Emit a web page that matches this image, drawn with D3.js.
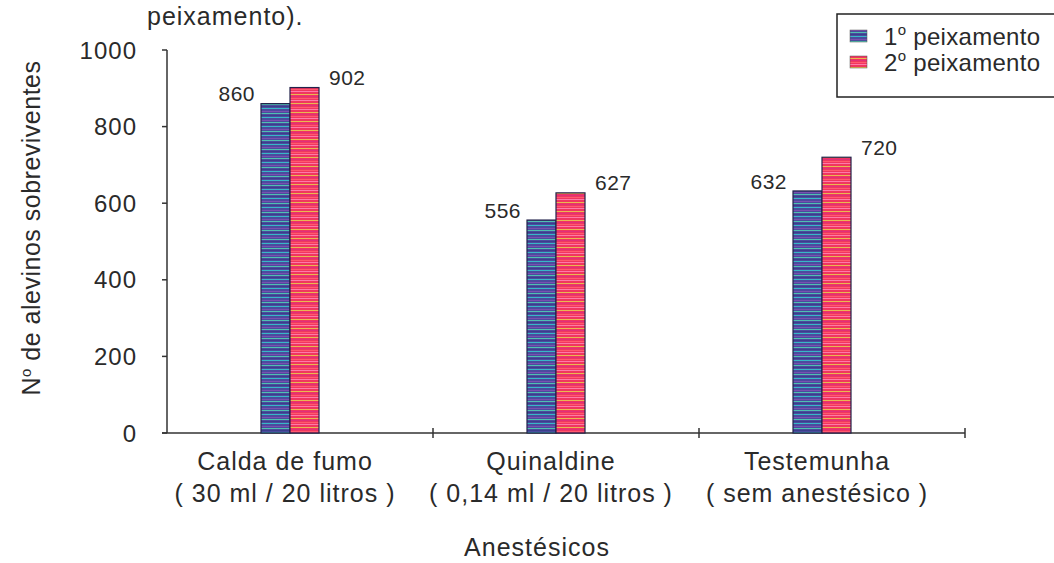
<!DOCTYPE html>
<html lang="pt">
<head>
<meta charset="UTF-8">
<title>Alevinos sobreviventes</title>
<script src="https://cdn.jsdelivr.net/npm/d3@7"></script>
<style>
  body { margin: 0; background: #fff; }
  svg text { font-family: "Liberation Sans", Arial, sans-serif; fill: #2a2a2a; letter-spacing: 1px; }
</style>
</head>
<body>
<svg id="chart" width="1054" height="563"></svg>
<script>
// data
var categories = ["Calda de fumo", "Quinaldine", "Testemunha"];
var subLabels = ["( 30 ml / 20 litros )", "( 0,14 ml / 20 litros )", "( sem anestésico )"];
var series = ["1", "2"];
var peix1 = [860, 556, 632];
var peix2 = [902, 627, 720];
var yTicks = [0, 200, 400, 600, 800, 1000];

var svg = d3.select("#chart");
var width = 1054, height = 563;

var x = d3.scaleBand().domain(categories).range([167, 965]).padding(0);
var xs = d3.scaleBand().domain(series).range([-29, 29]).padding(0);
var y = d3.scaleLinear().domain([0, 1000]).range([433, 50]);

// stripe patterns (scanned look)
var defs = svg.append("defs");
function stripes(id, base, lines) {
    var p = defs.append("pattern").attr("id", id)
        .attr("patternUnits", "userSpaceOnUse")
        .attr("width", 8).attr("height", 9);
    p.append("rect").attr("width", 8).attr("height", 9).attr("fill", base);
    lines.forEach(function(l) {
        p.append("rect").attr("x", 0).attr("y", l[0]).attr("width", 8).attr("height", l[1]).attr("fill", l[2]);
    });
}
stripes("pat1", "#4b4c9e", [[0, 1, "#38b7c6"], [3, 1, "#7a4fb0"], [5, 1, "#4fc0b0"], [7, 1, "#3b3e8c"]]);
stripes("pat2", "#f03660", [[1, 1, "#ff7aa8"], [4, 1, "#e8b850"], [6, 1, "#e0307a"], [8, 1, "#ff5a6e"]]);
var fills = {"1": "url(#pat1)", "2": "url(#pat2)"};

// title fragment (cut off at top)
svg.append("text").attr("x", 147).attr("y", 25)
    .style("font-size", "25px").text("peixamento).");

// axes
var axisColor = "#333";
svg.append("line").attr("x1", 167).attr("x2", 167).attr("y1", y(1000)).attr("y2", y(0))
    .attr("stroke", axisColor).attr("stroke-width", 1.5);
svg.append("line").attr("x1", 162).attr("x2", 965).attr("y1", y(0)).attr("y2", y(0))
    .attr("stroke", axisColor).attr("stroke-width", 1.5);

svg.selectAll(".ytick").data(yTicks).enter().append("line")
    .attr("x1", 162).attr("x2", 167)
    .attr("y1", function(d) { return y(d); }).attr("y2", function(d) { return y(d); })
    .attr("stroke", axisColor).attr("stroke-width", 1.5);

svg.selectAll(".ylab").data(yTicks).enter().append("text")
    .attr("x", 137).attr("y", function(d) { return y(d); })
    .attr("dy", "0.36em").attr("text-anchor", "end")
    .style("font-size", "24px").text(function(d) { return d; });

var xTicks = categories.map(function(c) { return x(c) + x.bandwidth(); });
svg.selectAll(".xtick").data(xTicks).enter().append("line")
    .attr("x1", function(d) { return d; }).attr("x2", function(d) { return d; })
    .attr("y1", y(0) - 5).attr("y2", y(0) + 5)
    .attr("stroke", axisColor).attr("stroke-width", 1.5);

// bars
var barShift = -10, labelShift = -15;
var rows = [];
categories.forEach(function(c, i) {
    rows.push({cat: c, s: "1", v: peix1[i]});
    rows.push({cat: c, s: "2", v: peix2[i]});
});
function bx(d) { return x(d.cat) + x.bandwidth() / 2 + barShift + xs(d.s); }

svg.selectAll(".bar").data(rows).enter().append("rect")
    .attr("x", bx).attr("y", function(d) { return y(d.v); })
    .attr("width", xs.bandwidth())
    .attr("height", function(d) { return y(0) - y(d.v); })
    .attr("fill", function(d) { return fills[d.s]; })
    .attr("stroke", "#22224a").attr("stroke-width", 1.2);

svg.selectAll(".val").data(rows).enter().append("text")
    .attr("x", function(d) { return d.s === "1" ? bx(d) - 6 : bx(d) + xs.bandwidth() + 10; })
    .attr("y", function(d) { return y(d.v) - 10; })
    .attr("dy", "0.36em")
    .attr("text-anchor", function(d) { return d.s === "1" ? "end" : "start"; })
    .style("font-size", "21px").style("letter-spacing", "0.5px").text(function(d) { return d.v; });

// category labels
categories.forEach(function(c, i) {
    var cx = x(c) + x.bandwidth() / 2 + labelShift;
    svg.append("text").attr("x", cx).attr("y", 470).attr("text-anchor", "middle")
        .style("font-size", "25px").text(c);
    svg.append("text").attr("x", cx).attr("y", 502).attr("text-anchor", "middle")
        .style("font-size", "25px").text(subLabels[i]);
});

// axis titles
svg.append("text").attr("x", 537).attr("y", 556).attr("text-anchor", "middle")
    .style("font-size", "25px").text("Anestésicos");

var yt = svg.append("text").attr("transform", "translate(40,228) rotate(-90)")
    .attr("text-anchor", "middle").style("font-size", "25px").style("letter-spacing", "0.5px");
yt.append("tspan").text("N");
yt.append("tspan").attr("dy", -9).style("font-size", "15px").text("o");
yt.append("tspan").attr("dy", 9).text(" de alevinos sobreviventes");

// legend
svg.append("rect").attr("x", 837).attr("y", 14).attr("width", 240).attr("height", 83)
    .attr("fill", "#fff").attr("stroke", "#222").attr("stroke-width", 1.5);
series.forEach(function(s, i) {
    var ly = 45 + i * 26;
    svg.append("rect").attr("x", 850).attr("y", ly - 15).attr("width", 17).attr("height", 12)
        .attr("fill", fills[s]).attr("stroke", "#555").attr("stroke-width", 0.5);
    var t = svg.append("text").attr("x", 884).attr("y", ly)
        .style("font-size", "24px").style("letter-spacing", "0.3px");
    t.append("tspan").text(s);
    t.append("tspan").attr("dy", -10).style("font-size", "15px").text("o");
    t.append("tspan").attr("dy", 10).text(" peixamento");
});
</script>
</body>
</html>
